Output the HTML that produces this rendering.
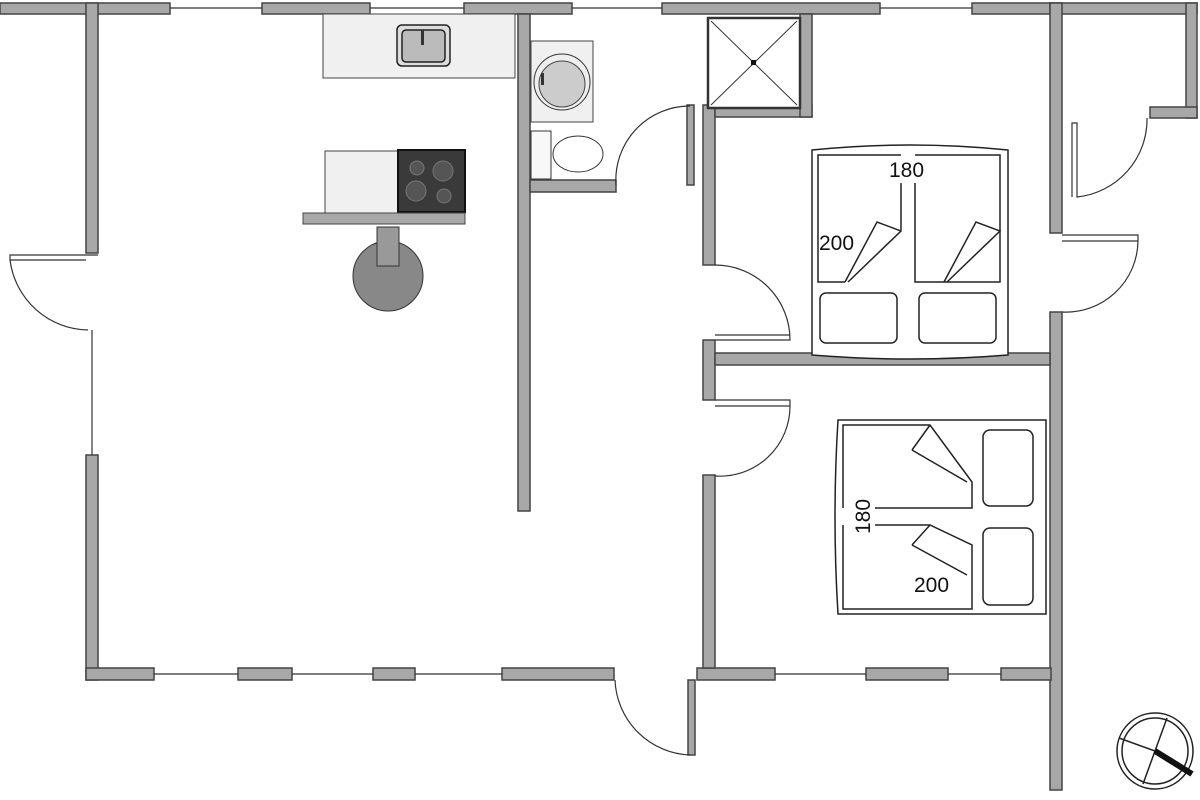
<!DOCTYPE html>
<html><head><meta charset="utf-8"><style>
html,body{margin:0;padding:0;background:#fff;width:1200px;height:800px;overflow:hidden}
svg{display:block}
text{font-family:"Liberation Sans",sans-serif;font-size:21px;fill:#111}
</style></head><body>
<svg width="1200" height="800" viewBox="0 0 1200 800" xmlns="http://www.w3.org/2000/svg">
<g fill="#a8a8a8" stroke="#444" stroke-width="1.5">
<!-- top wall segments -->
<rect x="0" y="3" width="170" height="11"/>
<rect x="262" y="3" width="108" height="11"/>
<rect x="464" y="3" width="108" height="11"/>
<rect x="662" y="3" width="218" height="11"/>
<rect x="972" y="3" width="90" height="11"/>
<!-- right closet -->
<rect x="1050" y="3" width="147" height="11"/>
<rect x="1186" y="3" width="11" height="115"/>
<rect x="1150" y="107" width="47" height="11"/>
<!-- right long vertical -->
<rect x="1050" y="3" width="12" height="230"/>
<rect x="1050" y="312" width="12" height="478"/>
<!-- left wall -->
<rect x="86" y="3" width="12" height="250"/>
<rect x="86" y="455" width="12" height="225"/>
<!-- bottom wall -->
<rect x="86" y="668" width="68" height="12"/>
<rect x="238" y="668" width="54" height="12"/>
<rect x="373" y="668" width="42" height="12"/>
<rect x="502" y="668" width="112" height="12"/>
<rect x="697" y="668" width="78" height="12"/>
<rect x="866" y="668" width="82" height="12"/>
<rect x="1001" y="668" width="50" height="12"/>
<!-- interior -->
<rect x="518" y="14" width="12" height="497"/>
<rect x="530" y="180" width="86" height="12"/>
<rect x="703" y="105" width="12" height="160"/>
<rect x="703" y="340" width="12" height="60"/>
<rect x="703" y="475" width="12" height="193"/>
<rect x="715" y="105" width="97" height="12"/>
<rect x="800" y="14" width="12" height="103"/>
<rect x="715" y="353" width="335" height="12"/>
<rect x="687" y="105" width="7" height="80"/>
<rect x="688" y="680" width="7" height="75"/>
</g>
<g fill="none" stroke="#333" stroke-width="1.2">
<!-- windows -->
<line x1="170" y1="8" x2="262" y2="8"/><line x1="370" y1="8" x2="464" y2="8"/>
<line x1="572" y1="8" x2="662" y2="8"/><line x1="880" y1="8" x2="972" y2="8"/>
<line x1="92" y1="330" x2="92" y2="455"/>
<line x1="154" y1="674" x2="238" y2="674"/><line x1="292" y1="674" x2="373" y2="674"/>
<line x1="415" y1="674" x2="502" y2="674"/><line x1="775" y1="674" x2="866" y2="674"/>
<line x1="948" y1="674" x2="1001" y2="674"/>
<!-- door arcs -->
<path d="M98 255 H10 V260 H86"/><path d="M10 260 A80 80 0 0 0 88 330"/>
<path d="M616 185 A74 74 0 0 1 690 106"/>
<path d="M715 265 A75 75 0 0 1 790 340 H715 M715 335 H790"/>
<path d="M715 400 H790 V406 H715 M790 406 A70 70 0 0 1 715 476"/>
<path d="M1062 235 H1138 V241 H1062 M1138 241 A72 72 0 0 1 1062 312"/>
<path d="M1147 118 A78 78 0 0 1 1077 197 V123 H1072 V197"/>
<path d="M615 680 A78 78 0 0 0 690 755"/>
</g>
<!-- kitchen -->
<rect x="323" y="14" width="192" height="64" fill="#f0f0f0" stroke="#444"/>
<rect x="397" y="25" width="53" height="41" rx="5" fill="#ddd" stroke="#222" stroke-width="1.5"/>
<rect x="402" y="30" width="43" height="32" rx="4" fill="#bbb" stroke="#222" stroke-width="1.5"/>
<rect x="421" y="30" width="3" height="15" fill="#333"/>
<rect x="325" y="151" width="73" height="62" fill="#f0f0f0" stroke="#444"/>
<rect x="398" y="150" width="67" height="62" fill="#3a3a3a" stroke="#111" stroke-width="2"/>
<g fill="#555" stroke="#777"><circle cx="417" cy="168" r="7"/><circle cx="443" cy="171" r="10"/><circle cx="416" cy="191" r="10"/><circle cx="444" cy="196" r="7"/></g>
<rect x="303" y="213" width="162" height="11" fill="#a8a8a8" stroke="#444"/>
<circle cx="388" cy="276" r="35" fill="#888" stroke="#333"/>
<rect x="377" y="227" width="22" height="39" fill="#999" stroke="#333"/>
<!-- bathroom -->
<rect x="531" y="41" width="62" height="81" fill="#f0f0f0" stroke="#444"/>
<circle cx="562" cy="82" r="28" fill="#eee" stroke="#333"/><circle cx="562" cy="84" r="23" fill="#ccc" stroke="#444"/>
<rect x="541" y="73" width="3" height="12" fill="#333"/>
<rect x="531" y="131" width="20" height="48" fill="#f8f8f8" stroke="#333"/>
<ellipse cx="578" cy="154" rx="25" ry="18" fill="#fff" stroke="#333"/>
<rect x="708" y="18" width="92" height="90" fill="#fff" stroke="#333" stroke-width="2.5"/>
<path d="M711 21 L797 105 M797 21 L711 105" stroke="#333"/>
<rect x="751" y="60" width="5" height="5" fill="#111"/>
<!-- bed 1 -->
<g fill="none" stroke="#222" stroke-width="1.5">
<path d="M812 150 Q910 140 1008 150 V355 Q910 363 812 355 Z" fill="#fff"/>
<path d="M901 155 H818 V282 H845"/><path d="M901 183 V230"/>
<path d="M915 155 H1000 V282 H944 M915 183 V282 H944"/>
<path d="M845 282 L877 222 L901 231 L848 282"/><path d="M944 282 L976 222 L1000 231 L947 282"/>
<rect x="820" y="293" width="77" height="50" rx="6"/><rect x="919" y="293" width="77" height="50" rx="6"/>
<!-- bed 2 -->
<path d="M838 420 H1046 V614 H838 Q832 517 838 420 Z" fill="#fff"/>
<path d="M843 508 V425 H930 L972 482 V508 H875"/><path d="M843 525 V609 H972 V545 L930 525 H875"/>
<path d="M912 450 L930 425 M912 450 L967 482 M912 545 L930 525 M912 545 L967 575"/>
<rect x="983" y="430" width="50" height="76" rx="7"/><rect x="983" y="528" width="50" height="77" rx="7"/>
</g>
<rect x="888" y="158" width="40" height="24" fill="#fff"/>
<text x="889" y="177">180</text>
<text x="819" y="250">200</text>
<text x="914" y="592">200</text>
<text transform="translate(870 534) rotate(-90)">180</text>
<!-- compass -->
<g fill="none" stroke="#222" stroke-width="1.5">
<circle cx="1155" cy="751" r="38"/><circle cx="1155" cy="751" r="33"/>
<path d="M1167 718 L1143 784 M1119 738 L1155 751"/>
</g>
<path d="M1155 751 L1192 774" stroke="#111" stroke-width="6"/>
</svg>
</body></html>
